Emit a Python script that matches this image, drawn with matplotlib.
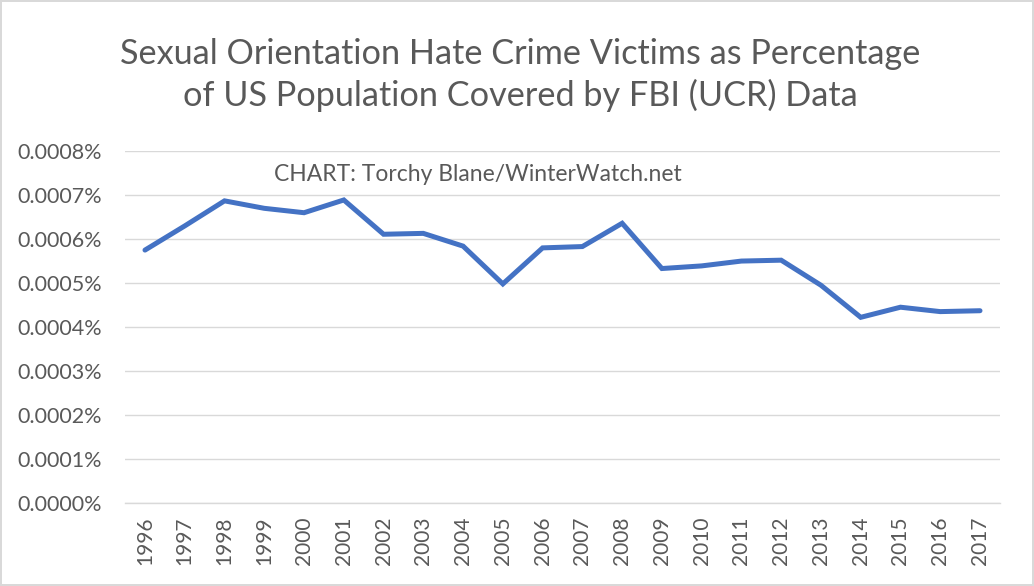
import matplotlib

matplotlib.use("Agg")
import matplotlib.pyplot as plt
from matplotlib.ticker import FuncFormatter, MultipleLocator

plt.rcParams["font.family"] = ["Lato", "DejaVu Sans"]

years = [str(y) for y in range(1996, 2018)]
# victims as % of covered population
pct = [0.000575, 0.000630, 0.000687, 0.000670, 0.000660, 0.000689,
       0.000611, 0.000613, 0.000584, 0.000498, 0.000580, 0.000583,
       0.000636, 0.000533, 0.000539, 0.000550, 0.000552, 0.000495,
       0.000422, 0.000445, 0.000435, 0.000437]

title = "Sexual Orientation Hate Crime Victims as Percentage\nof US Population Covered by FBI (UCR) Data"
credit = "CHART: Torchy Blane/WinterWatch.net"

grey = "#595959"
fig = plt.figure(figsize=(10.34, 5.86), dpi=100)
fig.patch.set_edgecolor("#D9D9D9")
fig.patch.set_linewidth(1.5)
ax = fig.add_axes([0.121, 0.142, 0.846, 0.600])

x = list(range(len(years)))
ax.plot(x, pct, color="#4472C4", lw=3.6, solid_joinstyle="miter", solid_capstyle="round")

ax.set_xlim(-0.5, len(years) - 0.5)
ax.set_ylim(0, 0.0008)
ax.yaxis.set_major_locator(MultipleLocator(0.0001))
ax.yaxis.set_major_formatter(FuncFormatter(lambda v, p: f"{v:.4f}%"))
ax.set_xticks(x)
ax.set_xticklabels(years, rotation=90)
ax.grid(axis="y", color="#D9D9D9", lw=1)
ax.set_axisbelow(True)
for s in ["top", "right", "left"]:
    ax.spines[s].set_visible(False)
ax.spines["bottom"].set_color("#D9D9D9")
ax.spines["bottom"].set_linewidth(1)
ax.tick_params(axis="both", length=0, colors=grey)
ax.tick_params(axis="x", labelsize=15, pad=10)
ax.tick_params(axis="y", labelsize=15.5, pad=17)

fig.text(0.503, 0.872, title, ha="center", va="center", fontsize=24.7, color=grey,
         linespacing=1.35)
ax.text(0.17, 0.935, credit, transform=ax.transAxes, ha="left", va="center",
        fontsize=16.5, color=grey)

fig.savefig("out.png", dpi=100)
